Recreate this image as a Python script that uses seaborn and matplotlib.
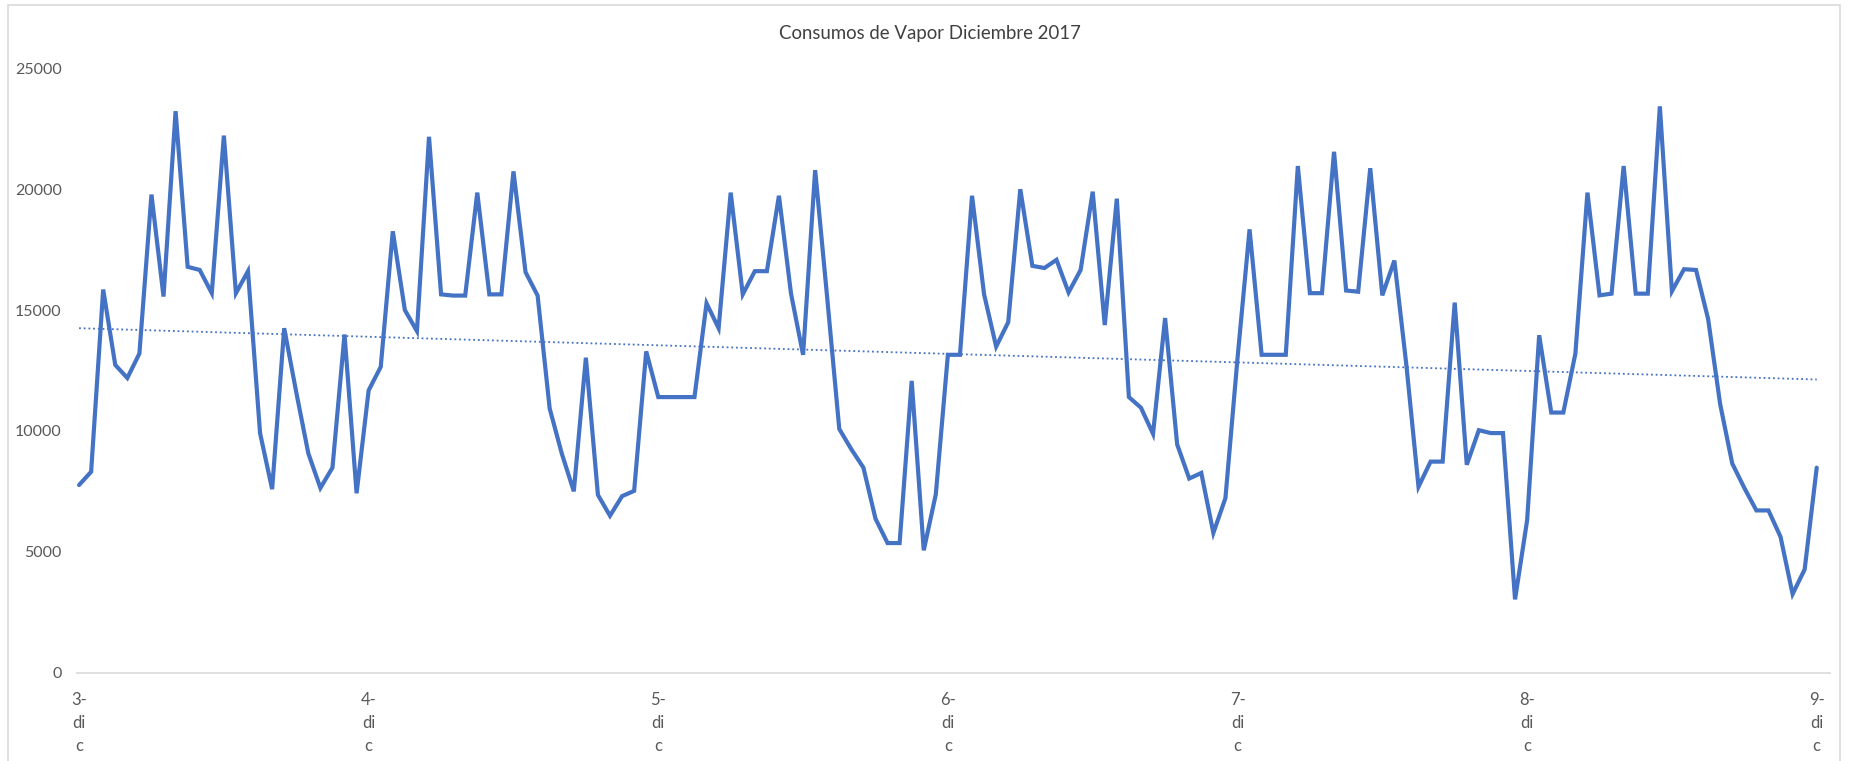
import numpy as np
import pandas as pd
import matplotlib
matplotlib.use("Agg")
import matplotlib.pyplot as plt
from matplotlib.patches import Rectangle
import seaborn as sns

# Hourly steam consumption (kg/h), one list per day, 00:00 .. 23:00
dic3 = [7760, 8310, 15850, 12730, 12190, 13200, 19780, 15560, 23230, 16790, 16660, 15700,
        22220, 15700, 16610, 9910, 7590, 14250, 11600, 9070, 7640, 8480, 13990, 7420]
dic4 = [11680, 12650, 18260, 15000, 14130, 22170, 15650, 15600, 15600, 19860, 15650, 15650,
        20740, 16570, 15600, 10930, 9070, 7500, 13030, 7350, 6490, 7300, 7520, 13290]
dic5 = [11400, 11400, 11400, 11400, 15280, 14250, 19860, 15650, 16610, 16610, 19730, 15680,
        13150, 20790, 15500, 10080, 9240, 8480, 6370, 5360, 5360, 12070, 5060, 7380]
dic6 = [13150, 13150, 19730, 15650, 13490, 14500, 20000, 16830, 16740, 17080, 15730, 16660,
        19900, 14380, 19610, 11400, 10960, 9880, 14670, 9440, 8030, 8260, 5780, 7220]
dic7 = [13000, 18340, 13150, 13150, 13150, 20960, 15700, 15700, 21550, 15810, 15760, 20870,
        15610, 17050, 12700, 7690, 8730, 8730, 15310, 8600, 10030, 9910, 9910, 3030]
dic8 = [6300, 13960, 10760, 10760, 13200, 19860, 15610, 15680, 20960, 15680, 15680, 23430,
        15780, 16690, 16660, 14630, 11100, 8650, 7640, 6710, 6710, 5620, 3250, 4270]
dic9 = [8480]

day_labels = ["3-\ndi\nc", "4-\ndi\nc", "5-\ndi\nc", "6-\ndi\nc", "7-\ndi\nc", "8-\ndi\nc", "9-\ndi\nc"]
y_ticks = [0, 5000, 10000, 15000, 20000, 25000]
title = "Consumos de Vapor Diciembre 2017"

values = np.array(dic3 + dic4 + dic5 + dic6 + dic7 + dic8 + dic9, dtype=float)
hours = np.arange(len(values))
df = pd.DataFrame({"hora": hours, "vapor": values})

sns.set_theme(style="white")
plt.rcParams["font.family"] = ["Lato", "DejaVu Sans"]

BLUE = "#4472C4"
GREY_TXT = "#595959"
GREY_LINE = "#D9D9D9"

fig = plt.figure(figsize=(18.5, 7.61), dpi=100)
ax = fig.add_axes([77 / 1850, 88.4 / 761, (1830 - 77) / 1850, (672.6 - 68.4) / 761])

sns.lineplot(data=df, x="hora", y="vapor", ax=ax, color=BLUE, linewidth=3.0,
             solid_joinstyle="miter", clip_on=False)

# Linear trend line (least squares), dotted
coef = np.polyfit(hours, values, 1)
trend = np.polyval(coef, hours)
ax.plot(hours, trend, color=BLUE, linewidth=1.3, linestyle=(0, (1, 1.6)))

ax.set_xlim(-0.17, 145.1)
ax.set_ylim(0, 25000)
ax.set_xticks(np.arange(0, len(values), 24))
ax.set_xticklabels(day_labels, fontsize=12, color=GREY_TXT, linespacing=1.55)
ax.set_yticks(y_ticks)
ax.set_yticklabels([str(v) for v in y_ticks], fontsize=11.5, color=GREY_TXT)
ax.tick_params(axis="both", length=0)
ax.tick_params(axis="y", pad=11)
ax.tick_params(axis="x", pad=14)
ax.set_xlabel("")
ax.set_ylabel("")

for side in ["top", "right", "left"]:
    ax.spines[side].set_visible(False)
ax.spines["bottom"].set_color(GREY_LINE)
ax.spines["bottom"].set_linewidth(1.2)

fig.text(929.5 / 1850, 1 - 33 / 761, title, ha="center", va="center",
         fontsize=13.4, color="#404040")

# Chart area border
fig.patches.append(Rectangle((8 / 1850, -0.05), (1840 - 8) / 1850, 1.05 - 5 / 761,
                             transform=fig.transFigure, fill=False,
                             edgecolor=GREY_LINE, linewidth=1.2, clip_on=False))

fig.savefig("out.png", dpi=100, facecolor="white")
